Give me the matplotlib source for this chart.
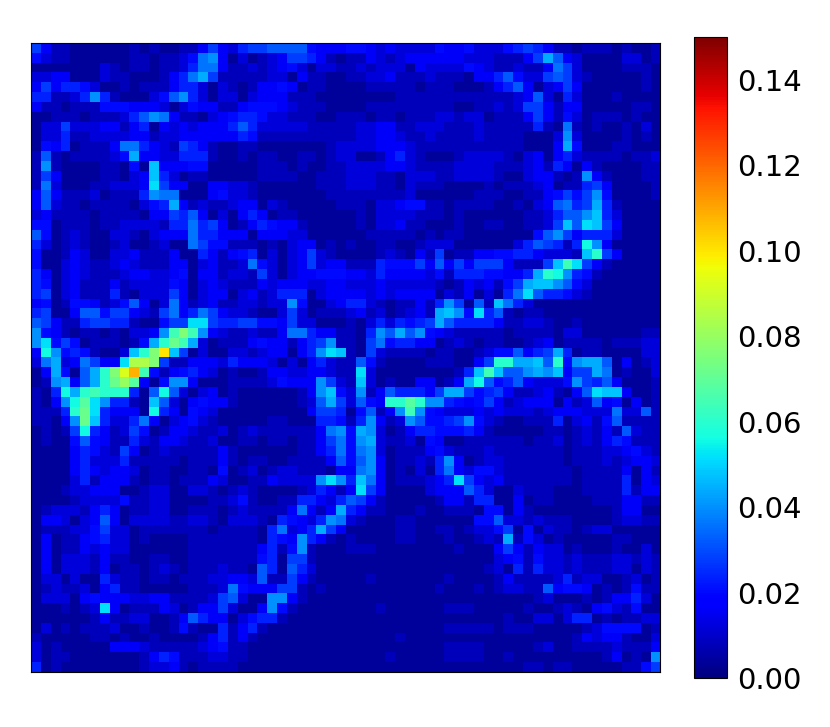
import numpy as np
import matplotlib
matplotlib.use('Agg')
import matplotlib.pyplot as plt

# one char per cell, base 36, unit below
UNIT = 0.004
VMIN, VMAX = 0.0, 0.15
CBAR_TICKS = [0.00, 0.02, 0.04, 0.06, 0.08, 0.10, 0.12, 0.14]

top_left = [
"7422 1111 1121 2112 2474 3677 8888 5444",
"5322 1111 1122 1223 59a4 1312 3477 6421",
"1111 1113 2122 1223 6994 2232 3453 1332",
"3344 1113 2211 1246 9b72 2222 3314 2211",
"4746 6531 1212 2246 6313 2124 4541 2211",
"6622 36a6 2111 358a 6313 3134 4422 2111",
"4221 2225 5544 4313 5442 2455 5432 2211",
"1122 2122 2368 a942 2134 5665 3322 2112",
"1337 3334 4246 1434 3444 6863 3333 2222",
"1336 2233 3344 2334 4444 4652 2222 2222",
"1546 1222 4996 4327 6421 1221 1111 1123",
"2821 2222 35b4 4336 6621 1212 2112 2123",
"2a21 1112 2151 c444 5511 1112 2212 1122",
"2741 1112 2134 c631 2211 1112 2221 1222",
"2931 1122 3334 d744 1144 3321 1111 1222",
"4842 2231 2226 a991 1145 3321 1111 1122",
"4832 2122 2213 56b4 2322 3441 3211 1112",
"3422 2212 2221 4476 8413 1464 1221 1111",
"5512 2212 2333 3266 9674 1246 5442 1111",
"8512 3211 3321 3444 9664 4414 4433 1111",
"6312 3211 2311 2311 9755 2221 2134 4121",
"5112 4311 3342 2241 1642 4561 3134 7321",
"5113 4322 3432 2244 1342 2395 3134 7344",
"6413 4322 2344 3345 1442 3327 3134 4555",
"6513 4222 4233 3354 1343 2224 3444 3344",
"6713 4222 6213 3374 1344 1342 3666 1344",
"4512 5542 3584 1394 2342 2332 33a5 1134",
"6711 4885 7743 2794 6974 3321 1373 1222",
"8742 2677 6621 1577 dd76 6775 5473 3111",
"a542 1221 2133 4agj ga43 2232 2499 6442",
"ad57 5122 2125 bfig b312 2245 4424 67a2",
"4ea5 6521 13cf jpc7 1311 3323 4414 6adc",
]

top_right = [
"5543 4333 3544 5333 5676 4221 2221 2112",
"2243 2344 4444 3332 2247 b843 1111 3312",
"2323 3314 3333 5432 2322 4973 1111 2221",
"2233 4222 3222 1446 8533 7873 2111 1121",
"1122 2221 2221 1124 6841 3474 1111 1121",
"1111 1222 2222 2222 2348 3163 1112 1111",
"1122 2222 2221 1223 2377 4244 1111 1221",
"2212 2122 2332 3312 2247 4253 1222 1211",
"2334 4223 3322 2322 2226 2192 1211 2131",
"2334 4322 3222 2322 2211 13a3 1111 2121",
"3334 4432 2222 2222 2211 14b5 1112 2111",
"3112 4632 1112 3333 2134 1463 2222 1223",
"3333 4432 2223 3332 2234 2641 4211 1122",
"3332 2133 3223 3332 1134 4212 a421 1122",
"3332 2132 2211 1121 2223 4122 6741 1112",
"2222 2231 1111 1222 1122 4575 7a51 1112",
"2213 3455 2212 2221 1213 4896 7b62 1111",
"1213 3332 2212 1111 1122 3688 ac63 1111",
"1213 3422 1112 1122 1122 37c8 dc74 1111",
"1122 2221 2122 1111 1115 8a74 6663 1111",
"2112 2112 3331 1111 1368 7626 ea41 1111",
"1112 3214 2712 2445 5664 3332 cf74 1111",
"2226 5557 4847 4777 4222 7cgd 7421 1111",
"4436 4444 3526 6655 446b fea6 5211 1111",
"3334 3333 3212 4342 57bc ca85 3111 1111",
"4434 3444 4132 4131 69d8 6653 2111 1111",
"6632 1224 26a7 18 2c 9631 1111 1111 1111",
"3423 1234 2bca 5d68 2122 1111 1111 1111",
"2136 3656 7b86 6664 2233 2112 1111 1111",
"216a 8b8a 5432 2222 1222 2133 1111 1122",
"2179 5664 4123 2122 1123 4122 2212 2233",
"2173 2222 1221 1235 5846 7b61 2211 1133",
]

bottom_left = [
"39b3 4974 4dll j722 4443 6444 3131 4632",
"14b5 18bf jnrg 5245 6431 2112 4433 4432",
"12ab 48bf ikh4 15aa 4111 2222 3544 4a73",
"216e bfgf ff61 8e83 1341 2111 1112 4ac5",
"214a ehda 6621 c831 4544 2111 1112 38b7",
"2226 fid6 4441 e641 5431 1111 1111 4776",
"2214 aic6 3369 4134 5321 1111 2211 1665",
"1212 7e64 2375 1244 3223 1232 2222 249a",
"1211 5854 2263 2443 2231 1221 2212 2479",
"1111 4653 2741 2322 2224 2111 1112 2469",
"1111 4633 3622 2221 2224 2122 1122 2248",
"1111 4643 4431 2211 2215 1231 2332 2214",
"1111 3624 4421 2212 2243 1122 4333 3ada",
"1112 3344 4112 3311 3321 2321 1112 3642",
"1111 2333 3522 3311 1122 3521 1226 6436",
"1233 3246 4122 3311 2221 2322 2249 424b",
"1443 1348 4133 3322 3321 3332 1654 36a9",
"1222 3357 3312 2222 2212 2221 6934 6b74",
"1412 2456 3312 1111 2222 2221 654a 6421",
"1412 2434 3311 1111 2222 2224 625a 2111",
"1413 3324 2211 2211 2222 2225 6177 2111",
"1413 3324 1221 2321 2223 2218 6186 3111",
"1331 3116 3221 2212 2233 4438 2274 2111",
"1232 2314 6221 1111 2223 9544 4772 1211",
"1333 1454 4433 4422 2237 8311 aa42 1111",
"1112 123d 4122 2431 2447 3114 a521 1111",
"1111 1124 2233 1124 8644 1356 6211 1111",
"1312 1222 3112 1125 2116 2462 1111 1111",
"2111 1122 1211 2111 1246 2421 1111 1111",
"3121 1111 4443 2222 2345 2211 1111 1111",
"3122 1111 1112 4652 2233 2211 1111 1111",
"6121 1111 1112 3342 1222 2111 1111 1111",
]

bottom_right = [
"2852 1111 2221 147f fbbc 8f5a bb81 4123",
"2d31 1111 1112 6cgc 88ab ac47 7b91 2113",
"2c31 2114 4124 be85 6843 335a 7684 1112",
"3a24 8666 47bb 7567 4223 4214 8dcc 4112",
"3854 ffhf aa65 4574 2344 4142 3845 1412",
"1582 4aga 5433 3434 3332 3444 3339 3382",
"26a4 23a8 5567 a532 1122 2613 4258 2222",
"5ba3 1246 6555 6421 1111 2212 3242 8322",
"5ab3 2231 5411 2222 2212 2312 3246 5222",
"59a3 1222 4532 2232 2222 2212 2233 4532",
"58a4 1223 26a4 1233 2222 2212 2232 3443",
"49a4 1213 1694 3553 2222 2221 2222 4142",
"6c94 1222 346d 7434 2222 2221 2222 6143",
"4d74 1111 3444 8631 1322 2111 2222 6244",
"8742 1111 1244 2661 1412 2111 1222 4422",
"6422 1112 1122 2155 1421 1111 1112 4411",
"3211 1221 1111 1558 3323 2221 1112 3322",
"1111 1221 1221 2335 7151 3221 2331 1111",
"2111 1221 1121 1232 b253 1211 1112 2111",
"2221 1111 1112 1114 7424 3312 1112 1131",
"1111 1111 1111 1113 4525 3323 2223 3232",
"1111 1111 1111 1123 1626 3323 2223 3132",
"1121 1111 1121 1112 4222 2362 3311 2312",
"1111 1111 1211 1212 3322 8455 4121 2522",
"1111 1111 1111 1111 1112 3111 2124 4631",
"1112 1111 1122 2111 1121 1232 1453 2511",
"1111 1111 1111 1111 2113 3136 6121 2233",
"1111 1111 1122 2221 2221 1111 2355 5512",
"1111 1211 1111 1111 1111 1112 4344 2113",
"1111 1111 1122 2211 1112 3112 2223 2224",
"1111 2111 1122 2211 2111 1111 1124 121a",
"1111 1111 1111 1111 1122 1221 1111 2257",
]

def decode(rows):
	out = []
	for r in rows:
		r = r.replace(' ', '').ljust(32, '1')[:32]
		out.append([int(c, 36) * UNIT for c in r])
	return np.array(out)

heat = np.vstack([
	np.hstack([decode(top_left), decode(top_right)]),
	np.hstack([decode(bottom_left), decode(bottom_right)]),
])

fig = plt.figure(figsize=(8.3, 7.27), dpi=100)
ax = fig.add_axes([31 / 830, 1 - 672 / 727, 629 / 830, 629 / 727])
im = ax.imshow(heat, cmap='jet', vmin=VMIN, vmax=VMAX, interpolation='nearest', aspect='auto')
ax.set_xticks([])
ax.set_yticks([])

cax = fig.add_axes([694 / 830, 1 - 678 / 727, 33 / 830, 641 / 727])
cb = fig.colorbar(im, cax=cax)
cb.set_ticks(CBAR_TICKS)
cb.set_ticklabels(['%.2f' % t for t in CBAR_TICKS])
cb.ax.tick_params(labelsize=21, length=0, pad=7)

fig.savefig('out.png', dpi=100)
